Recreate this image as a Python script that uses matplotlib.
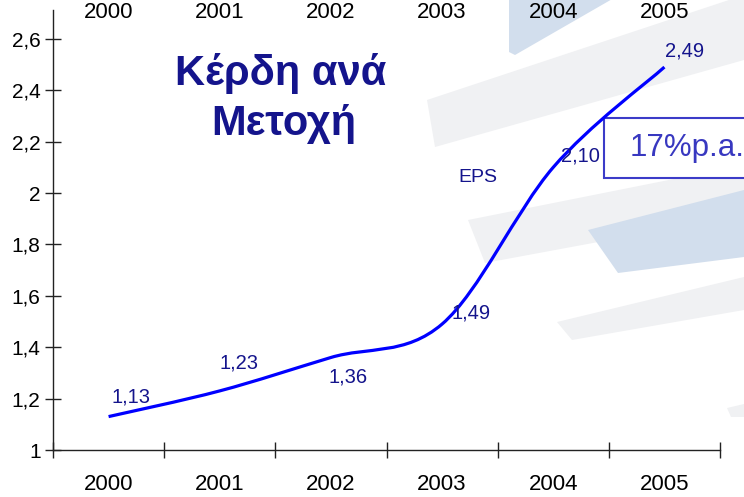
import matplotlib
matplotlib.use('Agg')
import matplotlib.pyplot as plt
import numpy as np
from matplotlib import font_manager
from matplotlib.path import Path
from matplotlib.patches import PathPatch, Polygon, Rectangle

# data
years = ['2000', '2001', '2002', '2003', '2004', '2005']
eps = [1.13, 1.23, 1.36, 1.49, 2.10, 2.49]
eps_labels = ['1,13', '1,23', '1,36', '1,49', '2,10', '2,49']
yticks = [1.0, 1.2, 1.4, 1.6, 1.8, 2.0, 2.2, 2.4, 2.6]
ytick_labels = ['1', '1,2', '1,4', '1,6', '1,8', '2', '2,2', '2,4', '2,6']
title_lines = ['Κέρδη ανά', 'Μετοχή']
series_name = 'EPS'
growth_label = '17%p.a.'

# label offsets in pixels (right, up)
label_offsets = [(22, 20), (19, 28), (17, -20), (29, 11), (27, 11), (20, 16)]

names = {f.name for f in font_manager.fontManager.ttflist}
narrow = 'Liberation Sans Narrow' if 'Liberation Sans Narrow' in names else 'Liberation Sans'
regular = 'Liberation Sans'

navy = '#14148c'
W, H = 744, 497

fig = plt.figure(figsize=(W / 100, H / 100), dpi=100)
fig.patch.set_facecolor('white')

# faint watermark shapes in the background (pixel coords, y down)
gray = '#f0f1f3'
blue = '#d2deed'
shapes = [
    (gray, [(427, 100), (744, -5), (744, 60), (435, 147)]),
    (blue, [(509, -2), (614, -2), (515, 55), (509, 52)]),
    (gray, [(468, 220), (744, 165), (744, 215), (485, 263)]),
    (blue, [(588, 230), (744, 190), (744, 257), (618, 273)]),
    (gray, [(557, 322), (744, 277), (744, 310), (572, 340)]),
    (gray, [(727, 408), (744, 404), (744, 417), (731, 417)]),
]
for col, pts in shapes:
    fig.patches.append(Polygon([(x / W, 1 - y / H) for x, y in pts], closed=True,
                               facecolor=col, edgecolor='none',
                               transform=fig.transFigure, zorder=0))

top_px = 10
ax = fig.add_axes([53 / W, 1 - 450 / H, 667 / W, (450 - top_px) / H])
ax.set_zorder(2)
ax.patch.set_alpha(0)
ax.set_xlim(-0.5, 5.5)
ax.set_ylim(1.0, 1.0 + (450 - top_px) / 257)

for s in ['top', 'right']:
    ax.spines[s].set_visible(False)
for s in ['left', 'bottom']:
    ax.spines[s].set_color('#222222')
    ax.spines[s].set_linewidth(1)

ax.set_yticks(yticks, labels=ytick_labels)
ax.tick_params(axis='y', direction='inout', length=12, width=1, color='#222222',
               pad=3, labelsize=15)
ax.set_xticks(np.arange(-0.5, 6, 1.0), labels=[])
ax.tick_params(axis='x', which='major', direction='inout', length=11, width=1,
               color='#222222')
ax.set_xticks(range(len(years)), labels=years, minor=True)
ax.tick_params(axis='x', which='minor', length=0, pad=17, labelsize=16)
for lab in ax.get_yticklabels() + ax.get_xticklabels(minor=True):
    lab.set_fontfamily(narrow)

# duplicated year labels on top
for i, y in enumerate(years):
    ax.text(i, (450 - 18) / (450 - top_px), y, transform=ax.get_xaxis_transform(),
            ha='center', va='baseline', fontsize=16, family=narrow,
            color='black', clip_on=False)

# smooth line (cubic bezier through the points)
n = len(eps)
verts = [(0, eps[0])]
codes = [Path.MOVETO]
for i in range(n - 1):
    a = max(i - 1, 0)
    b = min(i + 2, n - 1)
    c1 = (i + (i + 1 - a) / 6, eps[i] + (eps[i + 1] - eps[a]) / 6)
    c2 = (i + 1 - (b - i) / 6, eps[i + 1] - (eps[b] - eps[i]) / 6)
    verts += [c1, c2, (i + 1, eps[i + 1])]
    codes += [Path.CURVE4] * 3
ax.add_patch(PathPatch(Path(verts, codes), facecolor='none', edgecolor='#0000ff',
                       linewidth=2.3, capstyle='butt', zorder=3))

for i, (v, t) in enumerate(zip(eps, eps_labels)):
    dx, dy = label_offsets[i]
    ax.annotate(t, (i, v), xytext=(dx * 0.72, dy * 0.72), textcoords='offset points',
                ha='center', va='center', fontsize=14.5, family=narrow, color=navy,
                zorder=4)

ax.text(3.32, 2.06, series_name, ha='center', va='center', fontsize=14,
        family=regular, color=navy)

# growth box
ax.add_patch(Rectangle((4.455, 2.058), 1.5, 0.234, facecolor='white',
                       edgecolor='#3c3cc8', linewidth=1.5, clip_on=False, zorder=2))
ax.text(5.2, 2.175, growth_label, ha='center', va='center', fontsize=22.5,
        family=regular, color='#3838c0', clip_on=False, zorder=4)

# title
fig.text(281 / W, 1 - 85 / H, title_lines[0], ha='center', va='baseline',
         fontsize=30, fontweight='bold', family=regular, color=navy)
fig.text(284 / W, 1 - 135 / H, title_lines[1], ha='center', va='baseline',
         fontsize=30, fontweight='bold', family=regular, color=navy)

fig.savefig('out.png', dpi=100)
